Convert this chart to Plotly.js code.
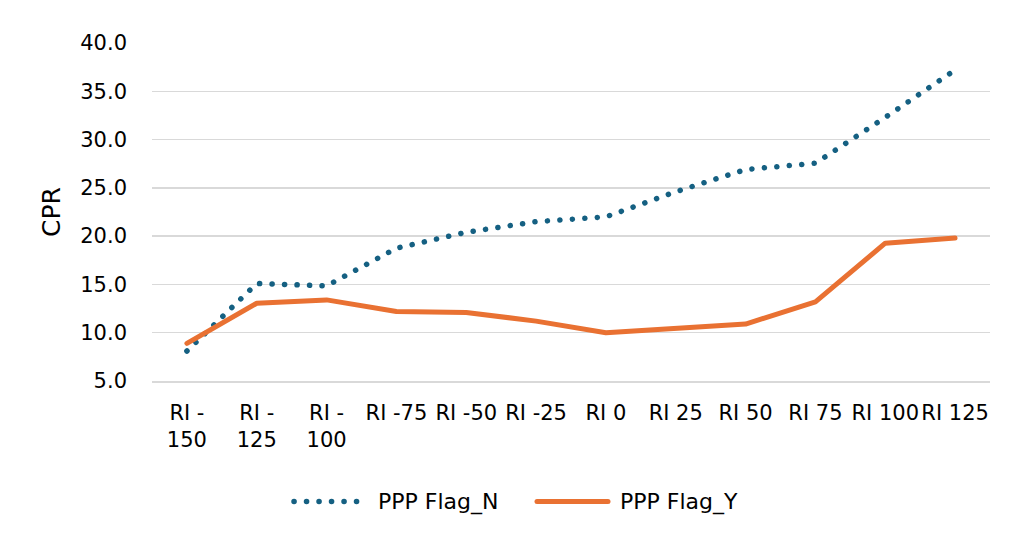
<!DOCTYPE html>
<html>
<head>
<meta charset="utf-8">
<script src="https://cdn.plot.ly/plotly-3.0.1.min.js"></script>
<style>
html,body{margin:0;padding:0;background:#fff;}
#chart{width:1024px;height:547px;}
.js-line, .shapelayer path{stroke-linecap:round !important;stroke-linejoin:round !important;}
</style>
</head>
<body>
<div id="chart"></div>
<script>
const categories = ["RI -<br>150","RI -<br>125","RI -<br>100","RI -75","RI -50","RI -25","RI 0","RI 25","RI 50","RI 75","RI 100","RI 125"];
const flagN = [8.1, 15.1, 14.85, 18.75, 20.4, 21.5, 22.0, 24.6, 26.9, 27.55, 32.3, 37.2];
const flagY = [8.9, 13.05, 13.4, 12.2, 12.1, 11.2, 10.0, 10.5, 10.9, 13.2, 19.27, 19.8];
const seriesNames = ["PPP Flag_N", "PPP Flag_Y"];
const yTicks = [5,10,15,20,25,30,35,40];

const font = "DejaVu Sans, Verdana, sans-serif";
const colors = ["#156082", "#E97132"];
const dotDash = "0.1px,12.4px";

const traces = [
  {x: categories, y: flagN, name: seriesNames[0], type: "scatter", mode: "lines",
   line: {color: colors[0], width: 5.5, dash: dotDash}},
  {x: categories, y: flagY, name: seriesNames[1], type: "scatter", mode: "lines",
   line: {color: colors[1], width: 5}}
];

// manual legend (pixel -> paper conversion)
const L = 152, R = 990, T = 43, B = 381;
const px = v => (v - L) / (R - L);
const py = v => (B - v) / (B - T);
const legY = 501.5;
const shapes = [
  {type: "line", xref: "paper", yref: "paper", x0: px(294), x1: px(360), y0: py(legY), y1: py(legY),
   line: {color: colors[0], width: 5.5, dash: dotDash}},
  {type: "line", xref: "paper", yref: "paper", x0: px(537), x1: px(608), y0: py(legY), y1: py(legY),
   line: {color: colors[1], width: 5}}
];
const annotations = [
  {xref: "paper", yref: "paper", x: px(376), y: py(legY), xanchor: "left", yanchor: "middle",
   text: seriesNames[0], showarrow: false, font: {family: font, size: 22, color: "#000"}},
  {xref: "paper", yref: "paper", x: px(618), y: py(legY), xanchor: "left", yanchor: "middle",
   text: seriesNames[1], showarrow: false, font: {family: font, size: 22, color: "#000"}}
];

const layout = {
  width: 1024, height: 547,
  margin: {l: L, r: 1024 - R, t: T, b: 547 - B},
  paper_bgcolor: "#fff", plot_bgcolor: "#fff",
  font: {family: font, size: 21, color: "#000"},
  showlegend: false,
  shapes: shapes,
  annotations: annotations,
  xaxis: {type: "category", range: [-0.5, 11.5], showgrid: false, zeroline: false,
          showline: true, linecolor: "#d9d9d9", linewidth: 1.5, ticks: "",
          ticklabelstandoff: 12, tickfont: {family: font, size: 21}, fixedrange: true},
  yaxis: {range: [5, 40], tickvals: yTicks, ticktext: yTicks.map(v => v.toFixed(1)),
          showgrid: true, gridcolor: "#d9d9d9", gridwidth: 1.5, zeroline: false,
          showline: false, ticks: "", ticklabelstandoff: 24,
          tickfont: {family: font, size: 21},
          title: {text: "CPR", font: {family: font, size: 25}, standoff: 12}, fixedrange: true}
};
Plotly.newPlot("chart", traces, layout, {staticPlot: true, displayModeBar: false});
</script>
</body>
</html>
